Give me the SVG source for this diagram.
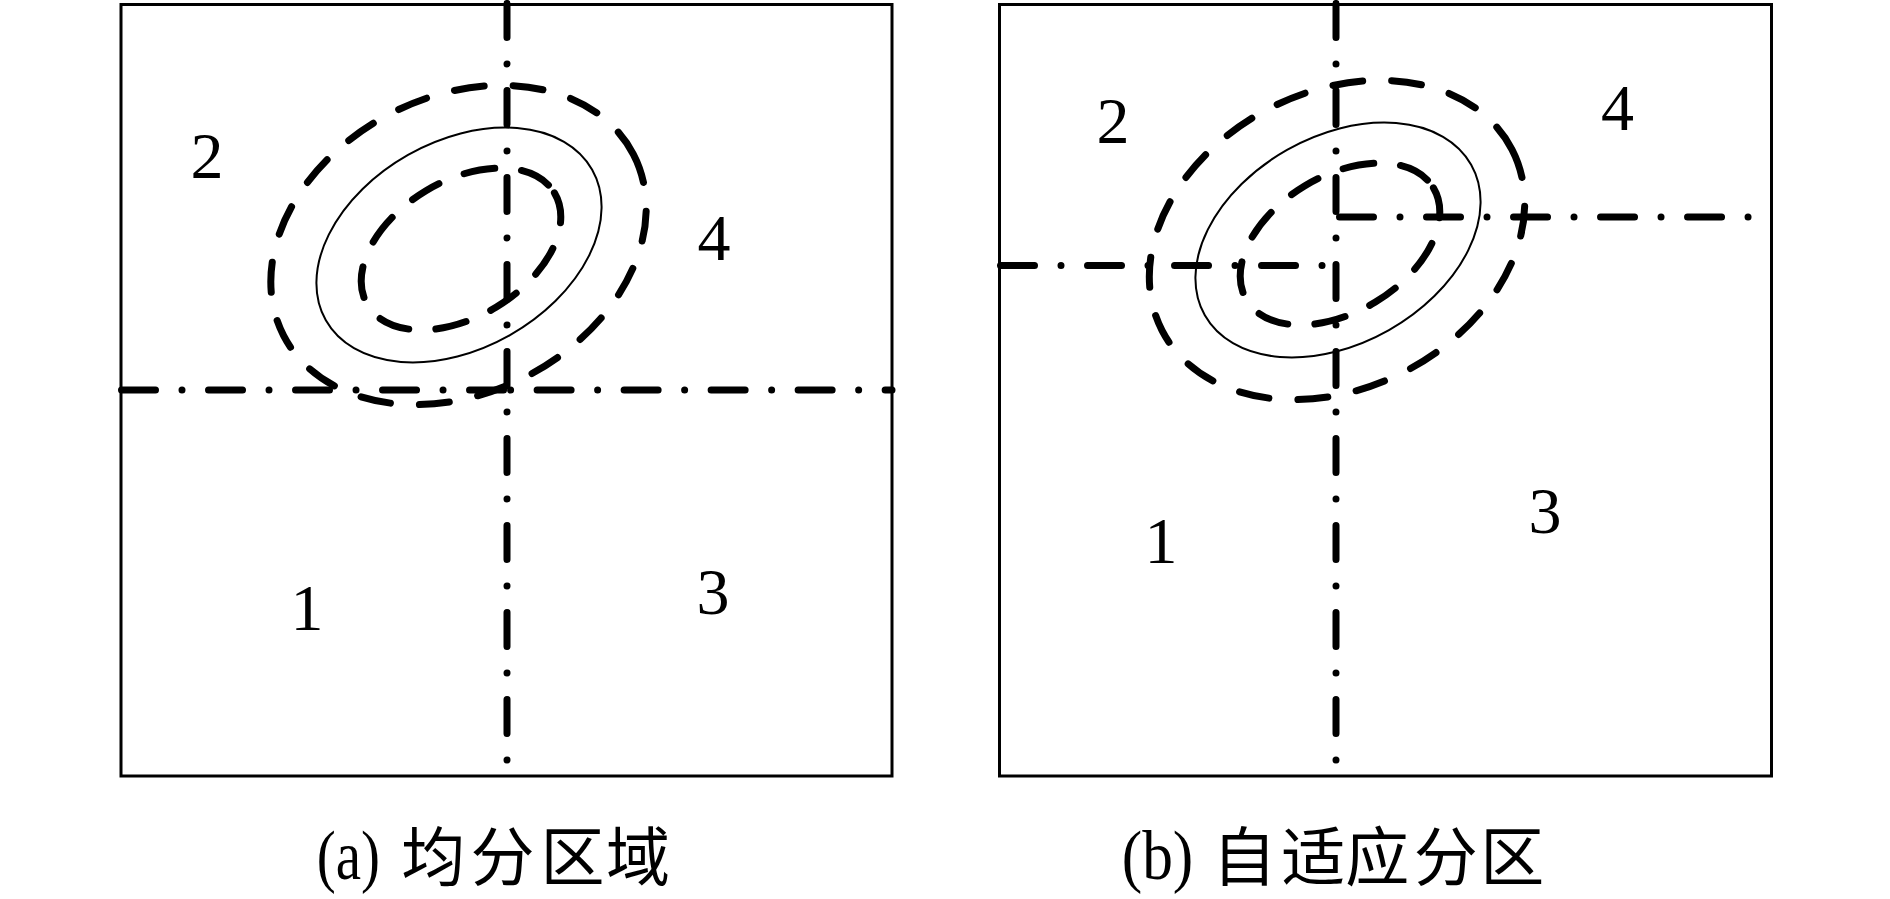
<svg xmlns="http://www.w3.org/2000/svg" width="1890" height="899" viewBox="0 0 1890 899">
<style>
.box{fill:none;stroke:#000;stroke-width:3}
.dd{fill:none;stroke:#000;stroke-width:7;stroke-linecap:round;stroke-dasharray:34 26.5 0.01 26.5}
.dd0{fill:none;stroke:#000;stroke-width:7;stroke-linecap:round;stroke-dasharray:0.01 26.5 34 26.5}
.solid{fill:none;stroke:#000;stroke-width:2}
.dash{fill:none;stroke:#000;stroke-width:7;stroke-linecap:round;stroke-dasharray:30 29}
.dashi{fill:none;stroke:#000;stroke-width:7;stroke-linecap:round;stroke-dasharray:31 27}
.num{font-family:"Liberation Serif","Times New Roman",serif;font-size:66px;text-anchor:middle;fill:#000}
.lat{font-family:"Liberation Serif","Times New Roman",serif;font-size:70px;fill:#000}
.cjk{font-family:"Noto Sans CJK SC","Noto Sans CJK JP",sans-serif;font-size:64px;fill:#000}
</style>
<rect width="1890" height="899" fill="#fff"/>

<g id="panel-a">
  <rect class="box" x="121" y="4.5" width="771" height="771.5"/>
  <g id="contours-a">
    <ellipse class="dash" cx="458.5" cy="245" rx="197" ry="148" transform="rotate(-27.4 458.5 245)"/>
    <ellipse class="solid" cx="459" cy="245" rx="153" ry="103.5" transform="rotate(-29.5 459 245)"/>
    <ellipse class="dashi" cx="461" cy="249" rx="109" ry="68" transform="rotate(-31 461 249)"/>
  </g>
  <g id="labels-a">
    <text class="num" x="207" y="178">2</text>
    <text class="num" x="714" y="260">4</text>
    <text class="num" x="307" y="630">1</text>
    <text class="num" x="713" y="614">3</text>
  </g>
</g>

<g id="panel-b">
  <rect class="box" x="999.5" y="4.5" width="772" height="771.5"/>
  <g id="contours-b">
    <ellipse class="dash" cx="1337" cy="240" rx="197" ry="148" transform="rotate(-27.4 1337 240)"/>
    <ellipse class="solid" cx="1338" cy="240" rx="153" ry="103.5" transform="rotate(-29.5 1338 240)"/>
    <ellipse class="dashi" cx="1340" cy="244" rx="109" ry="68" transform="rotate(-31 1340 244)"/>
  </g>
  <g id="labels-b">
    <text class="num" x="1113" y="143">2</text>
    <text class="num" x="1617.5" y="130">4</text>
    <text class="num" x="1161" y="563">1</text>
    <text class="num" x="1545" y="533">3</text>
  </g>
</g>

<g id="partition-lines">
  <path class="dd0" d="M507,760 V0"/>
  <path class="dd" d="M121.5,390 H507"/>
  <path class="dd0" d="M510.6,390 H892"/>
  <path class="dd0" d="M1336,760 V0"/>
  <path class="dd" d="M1000.5,265.5 H1336"/>
  <path class="dd" d="M1339.5,217 H1748.5"/>
</g>

<g id="caption-a">
  <text class="lat" x="316.7" y="879" textLength="63.3" lengthAdjust="spacingAndGlyphs">(a)</text>
  <text class="cjk" x="401.3 470.5 540.5 606" y="880">均分区域</text>
</g>
<g id="caption-b">
  <text class="lat" x="1121.7" y="879" textLength="71.6" lengthAdjust="spacingAndGlyphs">(b)</text>
  <text class="cjk" x="1212.2 1281.3 1345.3 1413.7 1480.3" y="880">自适应分区</text>
</g>
</svg>
